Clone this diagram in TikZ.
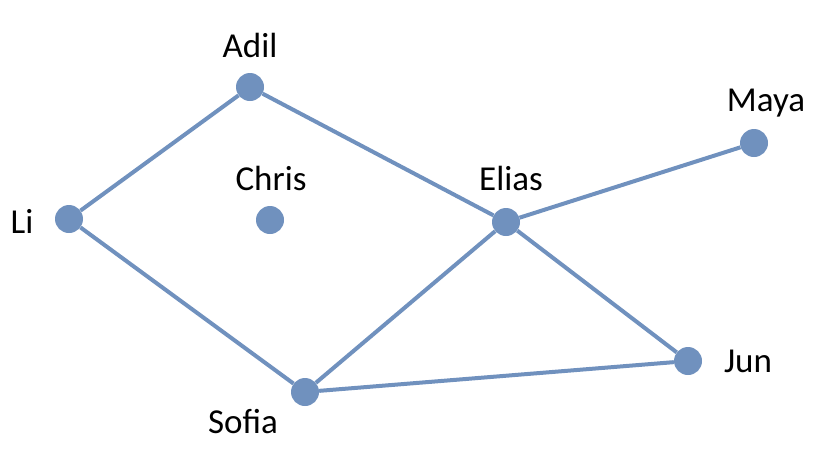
\documentclass[tikz,border=0pt]{standalone}
\usepackage{fontspec}
\setmainfont{Carlito}
\definecolor{netblue}{RGB}{112,145,190}

\begin{document}
\begin{tikzpicture}[x=1pt, y=-1pt,
    person/.style={circle, fill=netblue, inner sep=0pt, minimum size=28pt},
    tie/.style={netblue, line width=4pt},
    nametag/.style={font=\fontsize{35}{42}\selectfont, inner sep=0pt}]
  \useasboundingbox (0,0) rectangle (838,464);

  \node[person] (adil)  at (250,87)  {};
  \node[person] (li)    at (69,219)  {};
  \node[person] (chris) at (270,220) {};
  \node[person] (elias) at (506,222) {};
  \node[person] (maya)  at (754,143) {};
  \node[person] (jun)   at (688,361) {};
  \node[person] (sofia) at (305,392) {};

  \node[nametag] (adiltext)  at (250,45)  {Adil};
  \node[nametag] (litext)    at (22,221)  {Li};
  \node[nametag] (christext) at (271,178) {Chris};
  \node[nametag] (eliastext) at (511,178) {Elias};
  \node[nametag] (mayatext)  at (766,103) {Maya};
  \node[nametag] (juntext)   at (748,361) {Jun};
  \node[nametag] (sofiatext) at (243,422) {Sofia};

  \draw[tie] (li) -- (adil);
  \draw[tie] (adil) -- (elias);
  \draw[tie] (li) -- (sofia);
  \draw[tie] (sofia) -- (elias);
  \draw[tie] (elias) -- (maya);
  \draw[tie] (elias) -- (jun);
  \draw[tie] (sofia) -- (jun);
\end{tikzpicture}
\end{document}
